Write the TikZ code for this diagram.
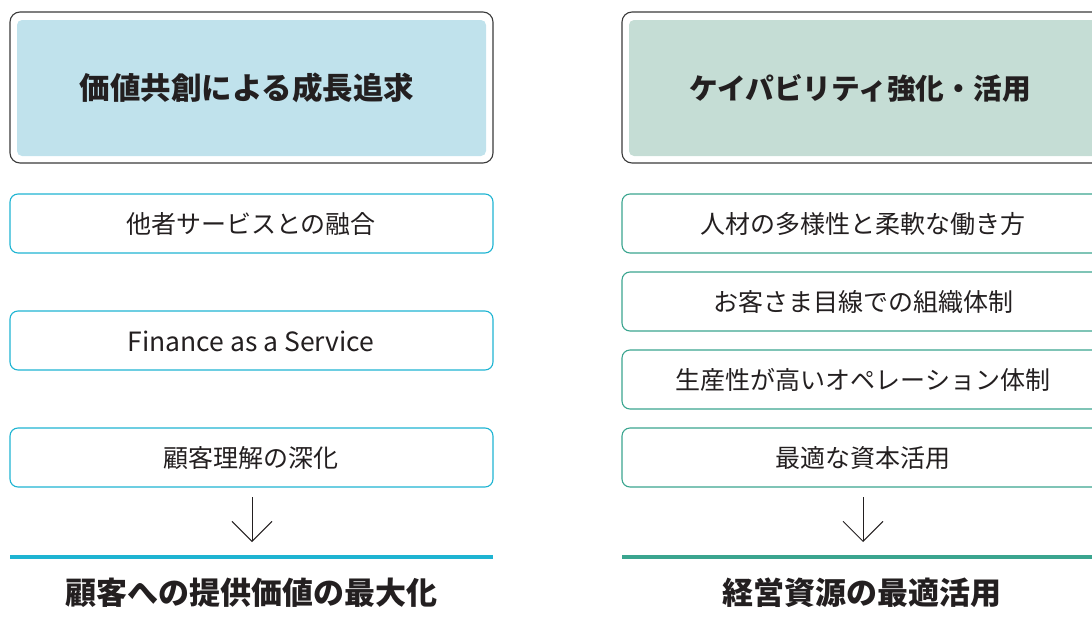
\documentclass[tikz,border=0pt]{standalone}
\usepackage{fontspec}
\setmainfont{Noto Sans CJK JP}
\usetikzlibrary{arrows.meta}
\definecolor{txt}{HTML}{231F20}
\definecolor{blueln}{HTML}{1EB4D2}
\definecolor{bluefill}{HTML}{C0E2EC}
\definecolor{greenln}{HTML}{3AA58F}
\definecolor{greenfill}{HTML}{C5DDD5}
\definecolor{frame}{HTML}{3A3A3A}
\tikzset{
  outer/.style={draw=frame, line width=1.1pt, rounded corners=10pt},
  inner/.style={rounded corners=5pt},
  itembox/.style={line width=1.1pt, rounded corners=8pt},
  itemtext/.style={text=txt, font=\fontsize{25}{29}\selectfont},
  headtext/.style={text=txt, font=\bfseries\fontsize{30.5}{34}\selectfont},
  foottext/.style={text=txt, font=\bfseries\fontsize{31}{35}\selectfont},
  downarrow/.style={draw=txt, line width=0.9pt, -{Straight Barb[length=20pt,width=40pt]}},
}
\begin{document}
\begin{tikzpicture}[x=1pt,y=-1pt]
\useasboundingbox (0,0) rectangle (1092,621);
% ---------- left column ----------
\draw[outer] (10,12) rectangle (493,163);
\fill[inner, bluefill] (17,20) rectangle (486,156);
\node[headtext] (lh) at (247,88) {価値共創による成長追求};

\draw[itembox, draw=blueln] (10,194) rectangle (493,253);
\node[itemtext] (l1) at (251,224) {他者サービスとの融合};
\draw[itembox, draw=blueln] (10,311) rectangle (493,370);
\node[itemtext, font=\fontsize{26.5}{30}\selectfont] (l2) at (251,341) {Finance as a Service};
\draw[itembox, draw=blueln] (10,428) rectangle (493,487);
\node[itemtext] (l3) at (251,458) {顧客理解の深化};

\coordinate (la1) at (252,497);
\coordinate (la2) at (252,542);
\draw[downarrow] (la1) -- (la2);
\draw[blueln, line width=4pt] (10,557) -- (493,557);
\node[foottext] (lf) at (251,593) {顧客への提供価値の最大化};

% ---------- right column ----------
\draw[outer] (622,12) rectangle (1110,163);
\fill[inner, greenfill] (629,20) rectangle (1103,156);
\node[headtext, font=\bfseries\fontsize{28.7}{33}\selectfont] (rh) at (860,88) {ケイパビリティ強化・活用};

\draw[itembox, draw=greenln] (622,194) rectangle (1110,253);
\node[itemtext] (r1) at (863,224) {人材の多様性と柔軟な働き方};
\draw[itembox, draw=greenln] (622,272) rectangle (1110,331);
\node[itemtext] (r2) at (863,302) {お客さま目線での組織体制};
\draw[itembox, draw=greenln] (622,350) rectangle (1110,409);
\node[itemtext] (r3) at (863,380) {生産性が高いオペレーション体制};
\draw[itembox, draw=greenln] (622,428) rectangle (1110,487);
\node[itemtext] (r4) at (863,458) {最適な資本活用};

\coordinate (ra1) at (863,497);
\coordinate (ra2) at (863,542);
\draw[downarrow] (ra1) -- (ra2);
\draw[greenln, line width=4pt] (622,557) -- (1092,557);
\node[foottext] (rf) at (862,593) {経営資源の最適活用};
\end{tikzpicture}
\end{document}
